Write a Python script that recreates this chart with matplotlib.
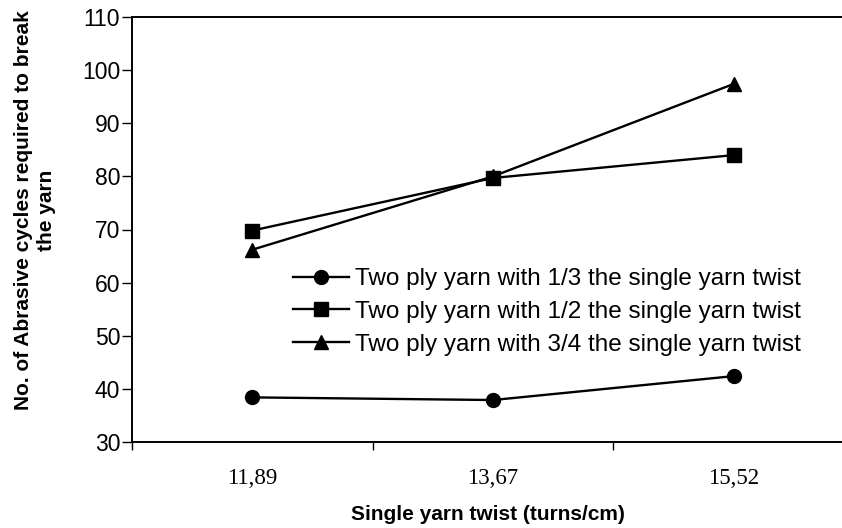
import numpy as np
import matplotlib
matplotlib.use('Agg')
import matplotlib.pyplot as plt
from matplotlib.ticker import FixedLocator, NullFormatter

# Single yarn twist categories (turns/cm)
twist_labels = ['11,89', '13,67', '15,52']
# Abrasive cycles to break the yarn for each ply twist ratio
ply_one_third = [38.4, 37.9, 42.4]
ply_one_half = [69.8, 79.7, 84.0]
ply_three_quarter = [66.2, 80.0, 97.4]
series_names = ['Two ply yarn with 1/3 the single yarn twist',
                'Two ply yarn with 1/2 the single yarn twist',
                'Two ply yarn with 3/4 the single yarn twist']

fig = plt.figure(figsize=(8.42, 5.28), dpi=100)
# plot area runs a little past the right edge of the picture (cropped in the original)
ax = fig.add_axes([132/842, 86/528, 722/842, 425/528])

x = np.arange(len(twist_labels))
ax.plot(x, ply_one_third, color='black', lw=1.7, marker='o', ms=10, label=series_names[0])
ax.plot(x, ply_one_half, color='black', lw=1.7, marker='s', ms=10, label=series_names[1])
ax.plot(x, ply_three_quarter, color='black', lw=1.7, marker='^', ms=10, label=series_names[2])

ax.set_xlim(-0.5, len(twist_labels) - 0.5)
ax.set_ylim(30, 110)
ax.set_yticks(np.arange(30, 111, 10))

# category boundaries get tick marks, labels sit in the middle of each category
ax.xaxis.set_major_locator(FixedLocator(np.arange(-0.5, len(twist_labels), 1.0)))
ax.xaxis.set_major_formatter(NullFormatter())
ax.xaxis.set_minor_locator(FixedLocator(x))
ax.set_xticklabels(twist_labels, minor=True, fontfamily='Liberation Serif', fontsize=16.5)
ax.tick_params(axis='x', which='major', direction='out', length=6, width=1, color='black')
ax.tick_params(axis='x', which='minor', length=0, pad=19)
ax.tick_params(axis='y', direction='out', length=7, width=1, pad=1.5)
for lbl in ax.get_yticklabels():
    lbl.set_fontfamily('Liberation Sans')
    lbl.set_fontsize(16.5)

for side in ['left', 'bottom', 'top']:
    ax.spines[side].set_linewidth(1.4)
ax.spines['right'].set_visible(False)

fig.text(488/842, 1 - 514/528, 'Single yarn twist (turns/cm)', ha='center', va='center',
         fontfamily='Liberation Sans', fontweight='bold', fontsize=15)
fig.text(35/842, 1 - 210/528, 'No. of Abrasive cycles required to break\nthe yarn',
         rotation=90, ha='center', va='center', multialignment='center',
         fontfamily='Liberation Sans', fontweight='bold', fontsize=15)

leg = ax.legend(loc='upper left', bbox_to_anchor=(293/842, 1 - 268/528),
                bbox_transform=fig.transFigure, frameon=False,
                prop={'family': 'Liberation Sans', 'size': 17.5},
                handlelength=2.3, handletextpad=0.25, labelspacing=0.45,
                borderpad=0, borderaxespad=0)

plt.savefig('out.png', dpi=100)
